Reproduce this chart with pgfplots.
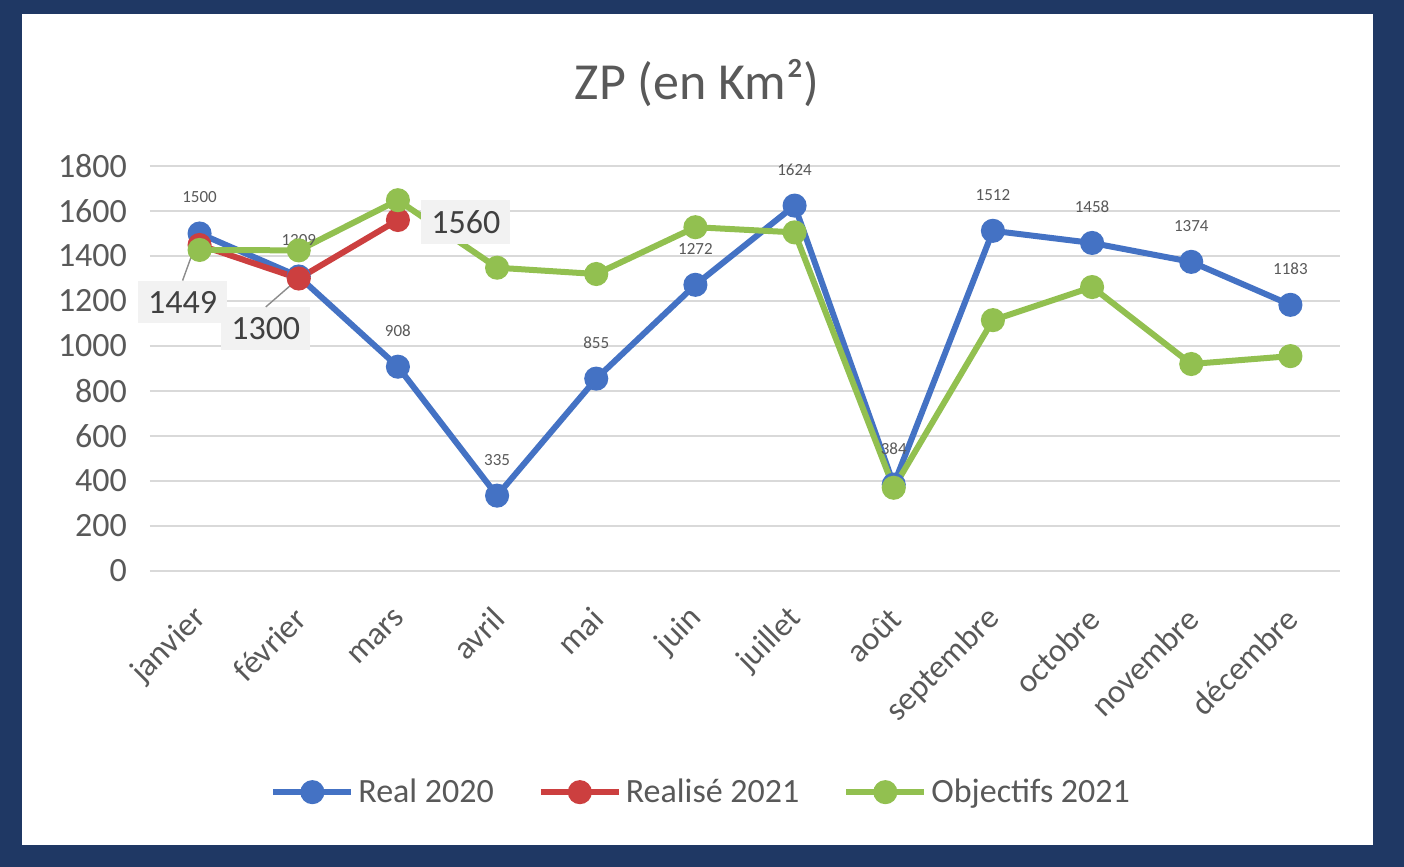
\documentclass[border=0pt]{standalone}
\usepackage{fontspec}
\setmainfont{Carlito}
\usepackage{pgfplots}
\pgfplotsset{compat=1.18}

\definecolor{navy}{HTML}{1F3864}
\definecolor{txt}{HTML}{595959}
\definecolor{gridc}{HTML}{D9D9D9}
\definecolor{c20}{HTML}{4472C4}
\definecolor{r21}{HTML}{CC3F3F}
\definecolor{o21}{HTML}{92C050}

\pgfplotsset{/pgf/number format/.cd, 1000 sep={}, assume math mode=true}

\begin{document}
\begin{tikzpicture}
% cadre
\fill[navy] (0,0) rectangle (702pt,-433.5pt);
\fill[white] (11pt,-7pt) rectangle (686.5pt,-422.5pt);
\node[text=txt, font=\fontsize{26}{30}\selectfont] at (348.5pt,-41.5pt) {ZP (en Km²)};

\begin{axis}[
    at={(75pt,-285.5pt)}, anchor=south west,
    scale only axis,
    width=595pt, height=202.5pt,
    xmin=-0.5, xmax=11.5,
    ymin=0, ymax=1800,
    xtick={0,...,11},
    xticklabels={janvier,février,mars,avril,mai,juin,juillet,août,septembre,octobre,novembre,décembre},
    ytick={0,200,...,1800},
    ymajorgrids,
    grid style={line width=1pt, draw=gridc},
    axis line style={draw=none},
    tick style={draw=none},
    clip=false,
    yticklabel style={font=\fontsize{17}{20}\selectfont, text=txt, xshift=-8pt},
    xticklabel style={font=\fontsize{16.5}{20}\selectfont, text=txt, rotate=45, anchor=east, xshift=-10.9pt, yshift=-15.7pt},
    legend style={at={(0.464,-0.546)}, anchor=center, draw=none, fill=none,
        legend columns=3, font=\fontsize{17}{20}\selectfont, text=txt,
        /tikz/every even column/.append style={column sep=20pt}},
    legend image code/.code={\draw[mark repeat=2,mark phase=2,#1] plot coordinates {(0pt,0pt) (19.5pt,0pt) (39pt,0pt)};},
    every axis plot/.append style={line width=3pt, mark=*, mark size=4.5pt},
]
% Real 2020
\addplot[c20, mark options={fill=c20}, nodes near coords,
    every node near coord/.append style={font=\fontsize{8.5}{10}\selectfont, text=txt, anchor=center, yshift=18pt}]
    coordinates {(0,1500) (1,1309) (2,908) (3,335) (4,855) (5,1272) (6,1624) (7,384) (8,1512) (9,1458) (10,1374) (11,1183)};
\addlegendentry{Real 2020}
% Realisé 2021
\addplot[r21, mark options={fill=r21}]
    coordinates {(0,1449) (1,1300) (2,1560)};
\addlegendentry{Realisé 2021}
% Objectifs 2021
\addplot[o21, mark options={fill=o21}]
    coordinates {(0,1427) (1,1425) (2,1648) (3,1348) (4,1320) (5,1528) (6,1505) (7,370) (8,1115) (9,1262) (10,920) (11,955)};
\addlegendentry{Objectifs 2021}

% étiquettes de Realisé 2021
\tikzset{redlab/.style={fill=black!5, text=black!75, font=\fontsize{17}{20}\selectfont, inner xsep=5pt, inner ysep=5pt}}
\node[redlab, xshift=-8.5pt, yshift=-28.5pt] (l1) at (axis cs:0,1449) {1449};
\node[redlab, xshift=-16.5pt, yshift=-25pt] (l2) at (axis cs:1,1300) {1300};
\node[redlab, xshift=34pt, yshift=-1pt] (l3) at (axis cs:2,1560) {1560};
\draw[black!45, line width=0.7pt] (l1.north) -- ([xshift=-3.5pt,yshift=-4pt]axis cs:0,1449);
\draw[black!45, line width=0.7pt] (l2.north) -- ([xshift=-1pt,yshift=-0.75pt]axis cs:1,1300);
\end{axis}
\end{tikzpicture}
\end{document}
